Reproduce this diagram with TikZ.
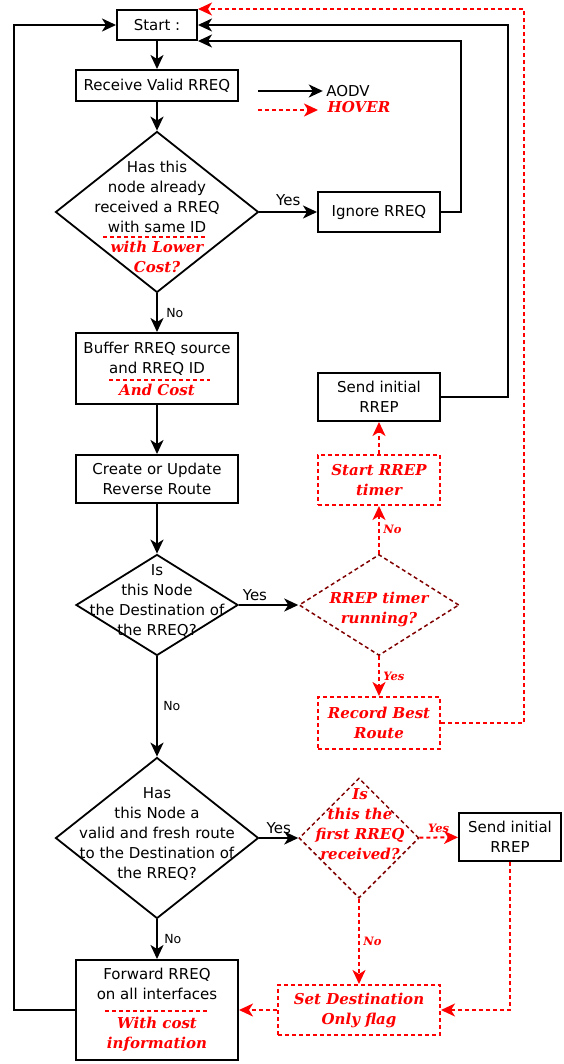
\documentclass[tikz,border=0pt]{standalone}
\usepackage{fontspec}
\setmainfont{DejaVu Sans}
\newfontfamily\hoverfont{DejaVu Serif}
\usetikzlibrary{shapes.geometric,arrows.meta,positioning}
\definecolor{hoverdark}{RGB}{128,0,0}
\newcommand{\hovertext}[1]{\textcolor{red}{\hoverfont\bfseries\itshape #1}}

\begin{document}
\begin{tikzpicture}[x=1pt,y=-1pt]
            \tikzstyle{every node}=[font=\fontsize{15}{20}\selectfont]
            \tikzstyle{every edge}=[draw]

            \tikzstyle{box}=[rectangle,draw,line width=2pt,align=center,minimum width=162pt,inner sep=2pt]
            \tikzstyle{hbox}=[box,red,dash pattern=on 4pt off 3pt,font=\hoverfont\bfseries\itshape\fontsize{15}{20}\selectfont]   % HOVER step
            \tikzstyle{dec}=[diamond,draw,line width=1.8pt,inner sep=0pt]
            \tikzstyle{hdec}=[dec,draw=hoverdark,line width=1.5pt,dash pattern=on 4pt off 3pt]      % HOVER test
            \tikzstyle{htext}=[align=center,red,font=\hoverfont\bfseries\itshape\fontsize{15}{20}\selectfont]
            \tikzstyle{lbl}=[font=\fontsize{12.5}{14}\selectfont]
            \tikzstyle{hlbl}=[red,font=\hoverfont\bfseries\itshape\fontsize{11.5}{13}\selectfont]

            \tikzstyle{aodv}=[line width=2pt,-{Stealth[length=14pt,width=13pt,inset=4pt]}]
            \tikzstyle{hover}=[red,line width=2pt,dash pattern=on 4pt off 3pt,-{Stealth[length=14pt,width=13pt,inset=4pt]}]
            \tikzstyle{costline}=[red,line width=1.5pt,dash pattern=on 4pt off 3pt]

            \useasboundingbox (0,0) rectangle (564,1064);

            % AODV column
            \node[box,minimum width=80pt,minimum height=30pt] (start) at (157,25) {Start :};
            \node[box,minimum height=31pt] (recv) at (157,85.5) {Receive Valid RREQ};
            \node[dec,minimum width=203pt,minimum height=161pt] (d1) at (157,212) {};
            \node[align=center] (d1t) at (157,217) {Has this\\node already\\received a RREQ\\with same ID\\\hovertext{with Lower}\\\hovertext{Cost?}};
            \node[box,minimum height=71pt] (buf) at (157,368.5) {Buffer RREQ source\\and RREQ ID\\[2pt]\hovertext{And Cost}};
            \node[box,minimum height=48pt] (upd) at (157,479) {Create or Update\\Reverse Route};
            \node[dec,minimum width=162pt,minimum height=101pt] (d2) at (157,605) {};
            \node[align=center] (d2t) at (157,601) {Is\\this Node\\the Destination of\\the RREQ?};
            \node[dec,minimum width=203pt,minimum height=161pt] (d4) at (157,838) {};
            \node[align=center] (d4t) at (157,834) {Has\\this Node a\\valid and fresh route\\to the Destination of\\the RREQ?};
            \node[box,minimum height=100pt] (fwd) at (157,1010) {Forward RREQ\\on all interfaces\\[9pt]\hovertext{With cost}\\\hovertext{information}};

            % right column
            \node[box,minimum width=122pt,minimum height=40pt] (ign) at (379,212) {Ignore RREQ};
            \node[box,minimum width=122pt,minimum height=48pt] (rrep1) at (379,397) {Send initial\\RREP};
            \node[hbox,minimum width=122pt,minimum height=50pt] (timer) at (379,480) {Start RREP\\timer};
            \node[hdec,minimum width=160pt,minimum height=101pt] (d3) at (379,605) {};
            \node[htext] (d3t) at (379,609) {RREP timer\\running?};
            \node[hbox,minimum width=122pt,minimum height=52pt] (best) at (379,723) {Record Best\\Route};
            \node[hdec,minimum width=120pt,minimum height=120pt] (d5) at (359,838) {};
            \node[htext] (d5t) at (360,824) {Is\\this the\\first RREQ\\received?};
            \node[box,minimum width=102pt,minimum height=48pt] (rrep2) at (510,837) {Send initial\\RREP};
            \node[hbox,minimum width=162pt,minimum height=50pt] (flag) at (359,1010) {Set Destination\\Only flag};

            % legend
            \coordinate (lg1) at (258,91);
            \coordinate (lg2) at (258,110);
            \coordinate (lg2e) at (318,110);
            \node (aodv) at (348,91) {AODV};
            \node[htext] (hov) at (359,107) {HOVER};

            \path[aodv] (lg1) edge (aodv.west);
            \path[hover] (lg2) edge (lg2e);

            % cost marks
            \draw[costline] (103,237) -- (205,237);
            \draw[costline] (109,380) -- (210,380);
            \draw[costline] (105,1011) -- (207,1011);

            \path[aodv] (start) edge (recv);
            \path[aodv] (recv) edge (d1);
            \path[aodv] (d1) edge node[above=2pt]{Yes} (ign);
            \path[aodv] (d1) edge node[right=5pt,lbl]{No} (buf);
            \path[aodv] (buf) edge (upd);
            \path[aodv] (upd) edge (d2);
            \path[aodv] (d2) edge node[pos=0.27,above]{Yes} (d3);
            \path[aodv] (d2) edge node[right=2pt,lbl]{No} (d4);
            \path[aodv] (d4) edge node[above]{Yes} (d5);
            \path[aodv] (d4) edge node[right=3pt,lbl]{No} (fwd);

            \path[hover] (d3) edge node[right,hlbl]{No} (timer);
            \path[hover] (timer) edge (rrep1);
            \path[hover] (d3) edge node[right,hlbl]{Yes} (best);
            \path[hover] (d5) edge node[above,hlbl]{Yes} (rrep2);
            \path[hover] (d5) edge node[right,hlbl]{No} (flag);
            \path[hover] (flag) edge (fwd);
            \draw[hover] (rrep2) |- (flag);

            % back to start
            \draw[aodv] (ign.east) -- ++(20,0) |- (start.south east);
            \draw[aodv] (rrep1.east) -- ++(67,0) |- (start.east);
            \draw[hover] (best.east) -- ++(83,0) |- (start.north east);
            \draw[aodv] (fwd.west) -- ++(-61,0) |- (start.west);
        \end{tikzpicture}
\end{document}
